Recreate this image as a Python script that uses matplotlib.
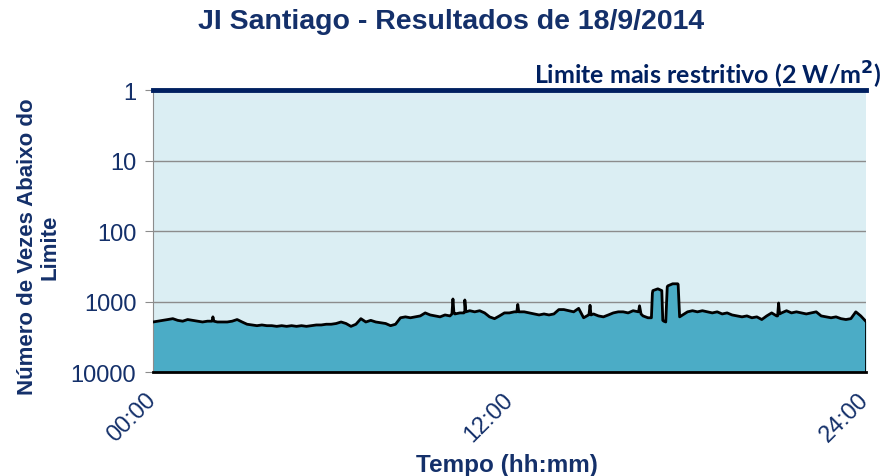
import matplotlib.pyplot as plt
import numpy as np

# numero de vezes abaixo do limite, amostras a cada 10 min (0 .. 1440 min)
base_vezes = [
    1950, 1900, 1850, 1800, 1750, 1850,
    1900, 1800, 1850, 1900, 1950, 1900,
    1850, 1950, 1950, 1950, 1900, 1800,
    1950, 2100, 2150, 2200, 2150, 2200,
    2200, 2250, 2200, 2250, 2200, 2250,
    2200, 2250, 2200, 2150, 2150, 2100,
    2100, 2050, 1950, 2050, 2250, 2100,
    1750, 1950, 1850, 1950, 2000, 2050,
    2200, 2100, 1700, 1650, 1700, 1650,
    1600, 1450, 1550, 1600, 1650, 1550,
    1600, 1500, 1450, 1400, 1350, 1400,
    1350, 1450, 1650, 1750, 1600, 1450,
    1450, 1400, 1400, 1400, 1450, 1500,
    1550, 1500, 1550, 1500, 1300, 1300,
    1350, 1400, 1250, 1700, 1550, 1500,
    1600, 1650, 1550, 1450, 1400, 1400,
    1450, 1350, 1400, 1600, 1700, 700,
    660, 1850, 600, 560, 560, 1550,
    1400, 1350, 1400, 1350, 1400, 1450,
    1400, 1500, 1450, 1550, 1600, 1650,
    1600, 1700, 1650, 1800, 1600, 1450,
    1600, 1450, 1350, 1450, 1400, 1450,
    1500, 1450, 1400, 1600, 1650, 1700,
    1650, 1750, 1800, 1750, 1400, 1600,
    1900,
]
base_min = np.arange(0, 1441, 10)

# picos estreitos e bordas dos blocos (minuto, vezes)
pico_min = [119, 121, 123, 604, 606, 608, 628, 630, 632, 735, 737, 739,
            881, 883, 885, 981, 983, 986, 1007, 1009, 1028, 1032, 1036,
            1039, 1061, 1064, 1262, 1264, 1266]
pico_vezes = [1900, 1650, 1900, 1500, 920, 1450, 1450, 950, 1400, 1400, 1100, 1400,
              1500, 1130, 1550, 1400, 1150, 1500, 1700, 760, 700, 1900, 1950,
              620, 570, 1650, 1600, 1050, 1500]

navy = '#14306A'

t = np.concatenate([base_min, pico_min])
v = np.concatenate([base_vezes, pico_vezes])
ordem = np.argsort(t, kind='stable')
t, v = t[ordem], v[ordem]

plt.rcParams['font.family'] = ['Liberation Sans', 'DejaVu Sans']

fig = plt.figure(figsize=(8.87, 4.77), dpi=100)
ax = fig.add_axes([0.1725, 0.218, 0.8035, 0.591])
ax.set_facecolor('#DBEEF3')

ax.set_yscale('log')
ax.set_ylim(10000, 1)
ax.set_xlim(0, 1440)

for g in [10, 100, 1000]:
    ax.axhline(g, color='#8C8C8C', lw=1, zorder=1)

ax.fill_between(t, v, 10000, color='#4BACC6', lw=0, zorder=2)
ax.plot(t, v, color='black', lw=2, zorder=3)
ax.vlines(t[-1], v[-1], 10000, color='black', lw=2, zorder=3)

ax.axhline(1, color='#002060', lw=3.5, zorder=4, clip_on=False)
ax.text(1.0225, 1.022, 'Limite mais restritivo (2 W/m$^{\\mathbf{2}}$)', transform=ax.transAxes,
        ha='right', va='baseline', fontsize=18, fontweight='bold', color='#002060',
        family='Lato')

ax.set_yticks([1, 10, 100, 1000, 10000])
ax.set_yticklabels(['1', '10', '100', '1000', '10000'])
ax.yaxis.set_minor_locator(plt.NullLocator())
ax.tick_params(axis='y', length=6, color='#8C8C8C', labelsize=17, labelcolor=navy, pad=6)

ax.set_xticks([0, 720, 1440])
ax.set_xticklabels(['00:00', '12:00', '24:00'], rotation=45, ha='right',
                   va='center', rotation_mode='anchor')
ax.tick_params(axis='x', length=0, labelsize=17, labelcolor=navy, pad=17)

for s in ['top', 'right']:
    ax.spines[s].set_visible(False)
ax.spines['left'].set_color('#8C8C8C')
ax.spines['bottom'].set_color('black')
ax.spines['bottom'].set_linewidth(2)

fig.text(0.572, 0.025, 'Tempo (hh:mm)', ha='center', va='center',
         fontsize=17.5, fontweight='bold', color=navy)
fig.text(0.0434, 0.482, 'Número de Vezes Abaixo do\nLimite', rotation=90, ha='center',
         va='center', fontsize=16, fontweight='bold', color=navy, linespacing=1.1)
fig.text(0.508, 0.954, 'JI Santiago - Resultados de 18/9/2014', ha='center', va='center',
         fontsize=20.5, fontweight='bold', color=navy)

fig.savefig('out.png', dpi=100)
